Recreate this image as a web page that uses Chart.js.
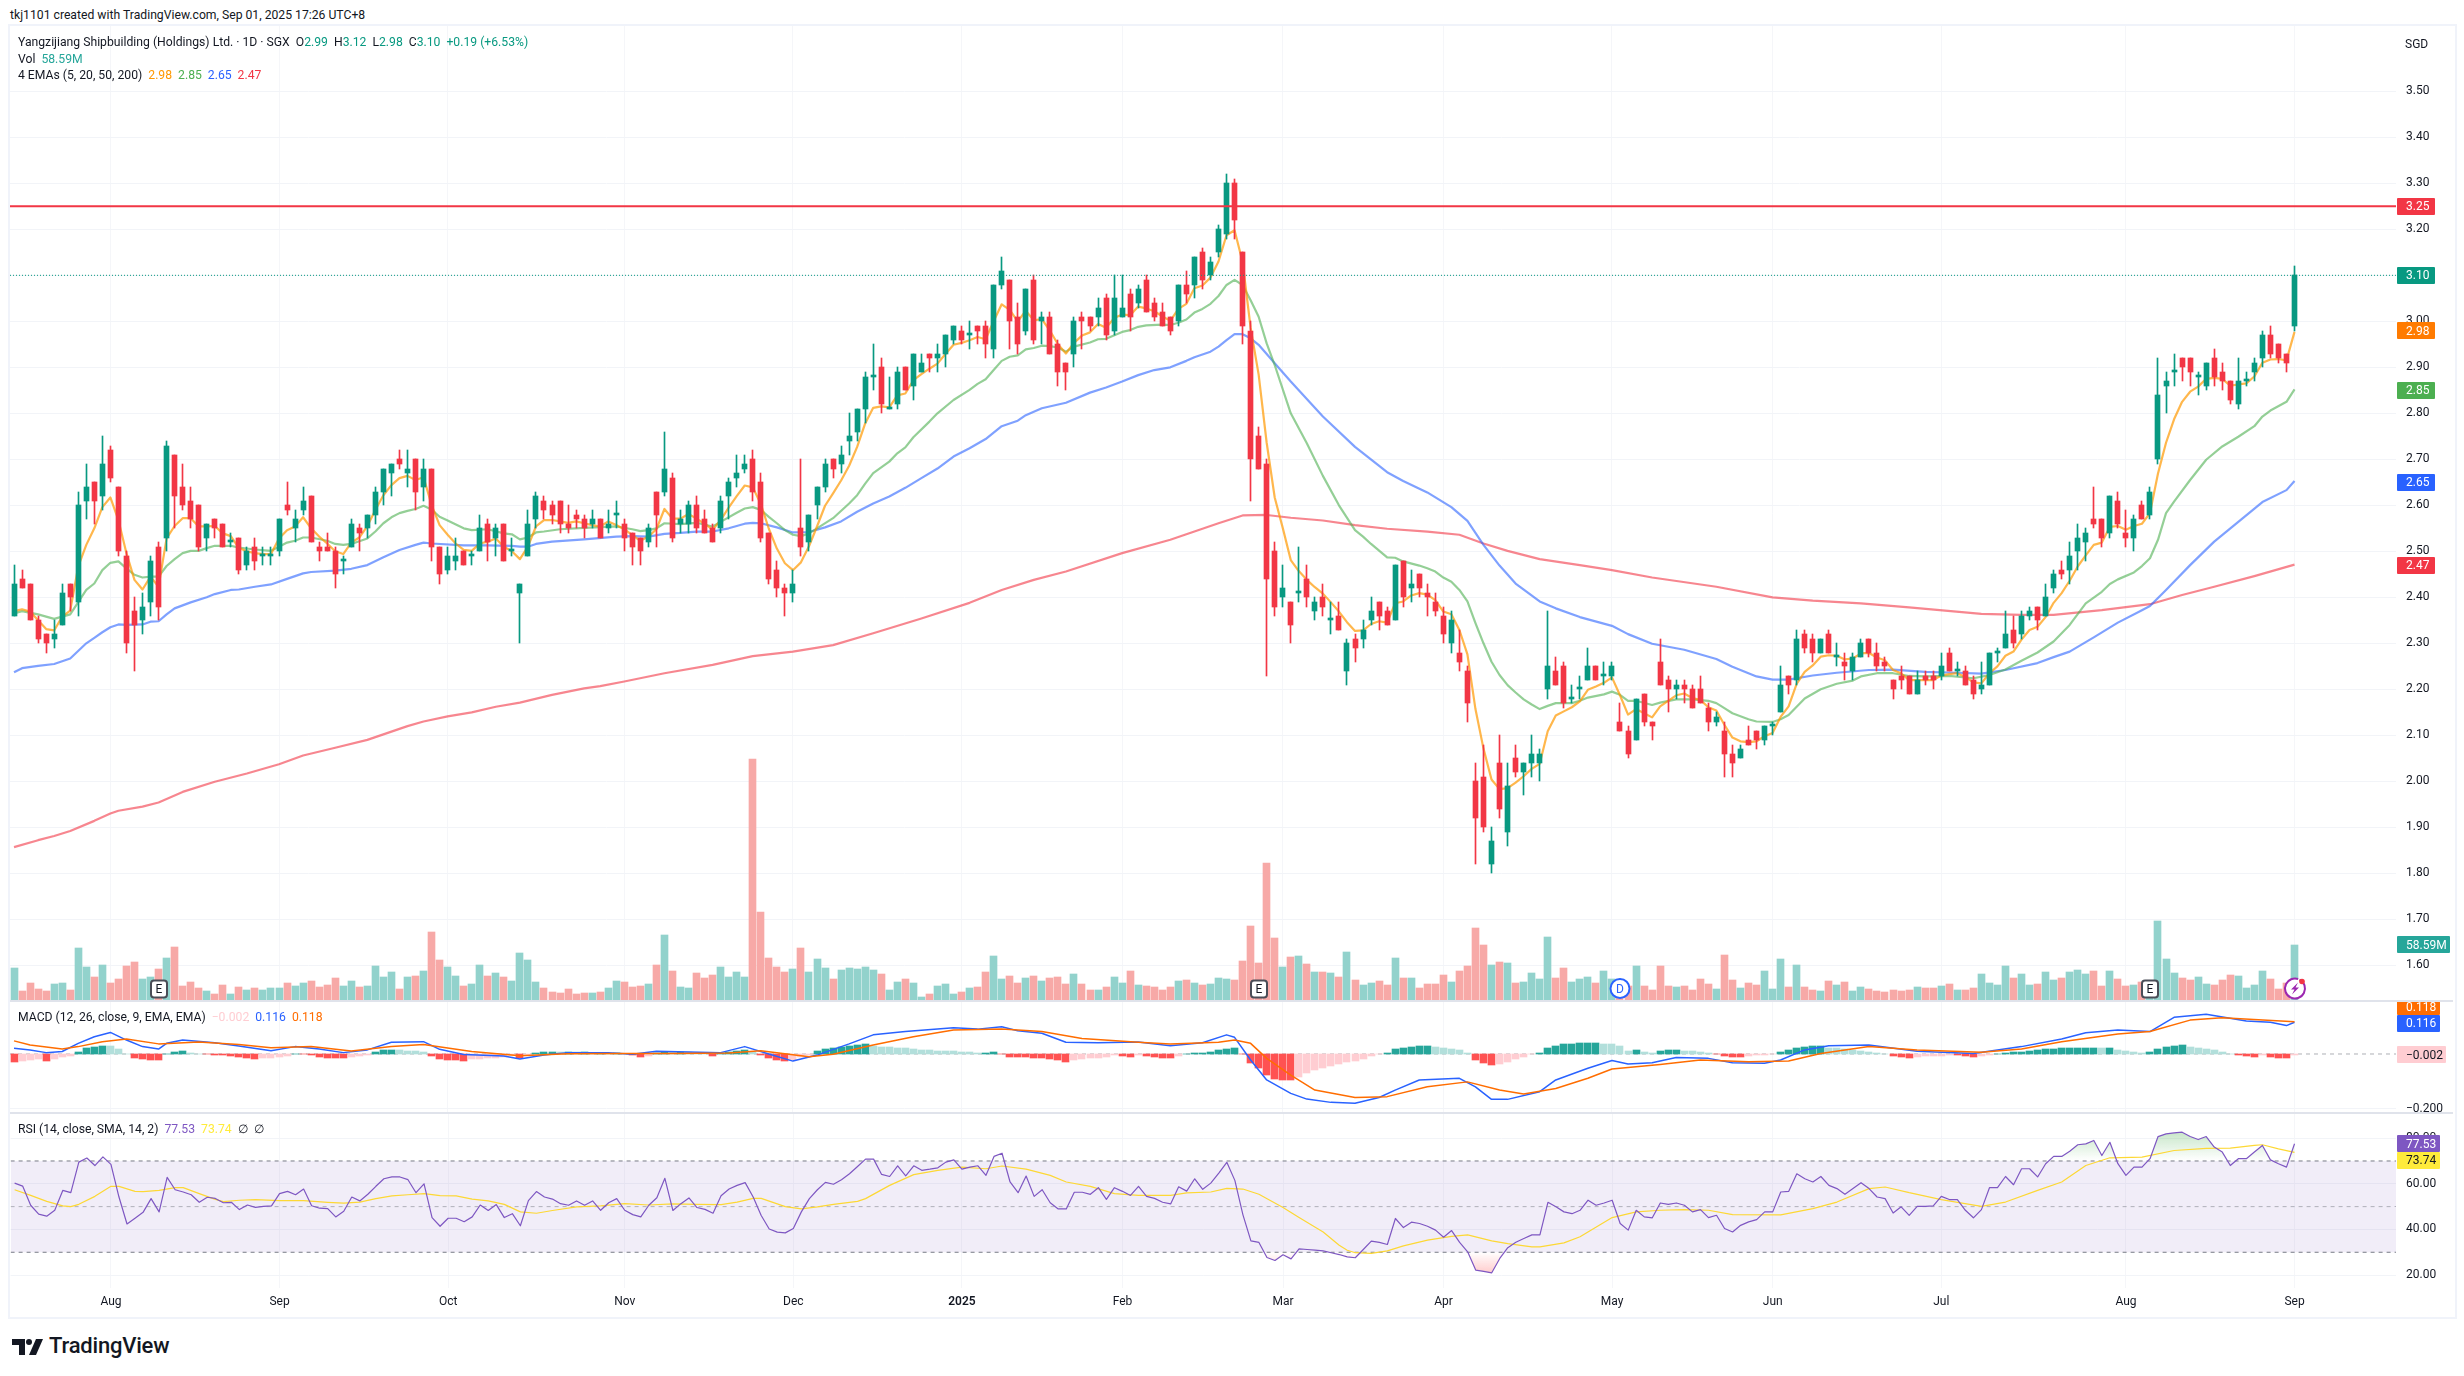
<!DOCTYPE html>
<html>
<head>
<meta charset="utf-8">
<title>Yangzijiang Shipbuilding 1D</title>
<script src="https://cdn.jsdelivr.net/npm/chart.js@4"></script>
<style>
  html, body { margin: 0; padding: 0; background: #fff; }
  body { width: 2464px; height: 1376px; position: relative; overflow: hidden; font-family: Roboto, sans-serif; color: #131722; }
  canvas { position: absolute; left: 10px; }
  #frame { position: absolute; left: 8px; top: 24px; width: 2445px; height: 1291px; border: 2px solid #f0f3fa; }
  .sep { position: absolute; left: 10px; width: 2443px; height: 2px; background: #e0e3eb; }
  .txt { position: absolute; white-space: pre; font-size: 12.2px; line-height: 16px; }
  .txt span { margin-left: 6px; }
  #logo { position: absolute; left: 12px; top: 1338px; }
  #logoText { position: absolute; left: 49px; top: 1333px; font-size: 22px; line-height: 26px; font-weight: 500; color: #131722; letter-spacing: -0.2px; }
  #sgd { position: absolute; left: 2405px; top: 37px; font-size: 12px; line-height: 15px; }
</style>
</head>
<body>
<div id="frame"></div>
<canvas id="mainCanvas" width="2443" height="975" style="top:26px"></canvas>
<canvas id="macdCanvas" width="2443" height="112" style="top:1001px"></canvas>
<canvas id="rsiCanvas" width="2443" height="202" style="top:1113px"></canvas>
<div class="sep" style="top:1000px"></div>
<div class="sep" style="top:1112px"></div>

<div class="txt" style="left:10px;top:7px">tkj1101 created with TradingView.com, Sep 01, 2025 17:26 UTC+8</div>
<div class="txt" style="left:18px;top:34px">Yangzijiang Shipbuilding (Holdings) Ltd. · 1D · SGX<span>O</span><span style="margin:0;color:#089981">2.99</span><span>H</span><span style="margin:0;color:#089981">3.12</span><span>L</span><span style="margin:0;color:#089981">2.98</span><span>C</span><span style="margin:0;color:#089981">3.10</span><span style="color:#089981">+0.19 (+6.53%)</span></div>
<div class="txt" style="left:18px;top:51px">Vol<span style="color:#26a69a">58.59M</span></div>
<div class="txt" style="left:18px;top:67px">4 EMAs (5, 20, 50, 200)<span style="color:#ff9800">2.98</span><span style="color:#4caf50">2.85</span><span style="color:#2962ff">2.65</span><span style="color:#f23645">2.47</span></div>
<div class="txt" style="left:18px;top:1009px">MACD (12, 26, close, 9, EMA, EMA)<span style="color:#ffcdd2">−0.002</span><span style="color:#2962ff">0.116</span><span style="color:#ff6d00">0.118</span></div>
<div class="txt" style="left:18px;top:1121px">RSI (14, close, SMA, 14, 2)<span style="color:#7e57c2">77.53</span><span style="color:#ffeb3b">73.74</span><span>∅</span><span>∅</span></div>
<div id="sgd">SGD</div>

<svg id="logo" width="32" height="18" viewBox="0 0 32 18">
  <path d="M0 1h13v16H7V7H0z" fill="#131722"/>
  <circle cx="17" cy="4" r="3" fill="#131722"/>
  <path d="M24 1h7l-7 16h-7z" fill="#131722"/>
</svg>
<div id="logoText">TradingView</div>

<script>
// daily candles, one entry per session
const opens = [
  2.36,2.44,2.43,2.35,2.32,2.31,2.34,2.43,2.39,2.61,
  2.65,2.62,2.72,2.64,2.49,2.37,2.35,2.39,2.51,2.53,
  2.71,2.64,2.61,2.60,2.53,2.57,2.56,2.52,2.53,2.47,
  2.51,2.49,2.49,2.50,2.60,2.55,2.59,2.62,2.51,2.51,
  2.50,2.48,2.51,2.55,2.55,2.58,2.63,2.67,2.70,2.67,
  2.70,2.64,2.68,2.51,2.46,2.48,2.50,2.49,2.50,2.56,
  2.53,2.56,2.50,2.41,2.49,2.57,2.61,2.60,2.61,2.56,
  2.58,2.57,2.56,2.57,2.55,2.58,2.56,2.54,2.53,2.52,
  2.63,2.63,2.66,2.56,2.56,2.60,2.57,2.55,2.55,2.62,
  2.66,2.68,2.70,2.65,2.54,2.46,2.42,2.41,2.55,2.52,
  2.60,2.64,2.70,2.69,2.74,2.76,2.81,2.88,2.90,2.81,
  2.82,2.90,2.86,2.89,2.93,2.92,2.93,2.96,2.98,2.97,
  2.99,2.99,2.94,3.08,3.09,3.01,2.98,3.09,3.00,3.01,
  2.95,2.91,2.93,3.01,3.01,3.01,3.05,2.98,3.01,3.06,
  3.04,3.09,3.04,3.02,3.01,3.00,3.08,3.08,3.15,3.10,
  3.15,3.19,3.30,3.15,2.98,2.75,2.69,2.50,2.40,2.39,
  2.41,2.44,2.37,2.40,2.35,2.36,2.24,2.31,2.31,2.35,
  2.39,2.37,2.35,2.48,2.42,2.45,2.41,2.39,2.36,2.30,
  2.28,2.24,2.00,2.01,1.82,2.04,1.89,2.05,2.02,2.04,
  2.04,2.20,2.24,2.25,2.18,2.20,2.22,2.25,2.23,2.23,
  2.13,2.11,2.09,2.19,2.13,2.26,2.22,2.20,2.21,2.20,
  2.20,2.16,2.13,2.11,2.06,2.05,2.09,2.11,2.09,2.12,
  2.15,2.23,2.22,2.32,2.31,2.28,2.32,2.27,2.26,2.24,
  2.27,2.31,2.28,2.26,2.22,2.23,2.23,2.19,2.23,2.23,
  2.23,2.28,2.24,2.24,2.22,2.20,2.21,2.28,2.29,2.33,
  2.32,2.36,2.38,2.36,2.42,2.46,2.46,2.50,2.52,2.57,
  2.57,2.54,2.61,2.54,2.53,2.60,2.58,2.70,2.86,2.89,
  2.92,2.92,2.88,2.86,2.92,2.89,2.87,2.82,2.87,2.89,
  2.92,2.97,2.95,2.93,2.99
];
const highs = [
  2.47,2.46,2.43,2.36,2.32,2.35,2.43,2.43,2.63,2.69,
  2.65,2.75,2.73,2.64,2.50,2.40,2.41,2.49,2.52,2.74,
  2.71,2.69,2.64,2.60,2.56,2.57,2.56,2.54,2.53,2.51,
  2.53,2.51,2.51,2.57,2.65,2.59,2.64,2.62,2.52,2.54,
  2.51,2.49,2.57,2.56,2.58,2.64,2.68,2.69,2.72,2.72,
  2.70,2.70,2.68,2.51,2.51,2.53,2.50,2.50,2.58,2.57,
  2.56,2.56,2.53,2.43,2.59,2.63,2.62,2.61,2.61,2.60,
  2.59,2.58,2.59,2.57,2.59,2.61,2.57,2.54,2.53,2.56,
  2.63,2.76,2.67,2.59,2.61,2.62,2.59,2.56,2.62,2.66,
  2.71,2.71,2.72,2.67,2.54,2.48,2.43,2.46,2.70,2.58,
  2.64,2.70,2.70,2.73,2.80,2.81,2.89,2.95,2.92,2.88,
  2.90,2.90,2.93,2.93,2.93,2.95,2.97,2.99,2.99,3.00,
  2.99,3.00,3.08,3.14,3.09,3.04,3.07,3.10,3.02,3.02,
  2.96,2.91,3.01,3.02,3.01,3.05,3.06,3.10,3.10,3.07,
  3.08,3.10,3.05,3.04,3.01,3.08,3.11,3.14,3.16,3.14,
  3.21,3.32,3.31,3.15,3.00,2.77,2.70,2.52,2.47,2.39,
  2.51,2.47,2.40,2.43,2.39,2.39,2.31,2.32,2.35,2.40,
  2.39,2.38,2.47,2.48,2.46,2.45,2.43,2.41,2.38,2.37,
  2.33,2.25,2.04,2.08,1.90,2.10,2.04,2.08,2.04,2.10,
  2.07,2.37,2.27,2.26,2.21,2.23,2.29,2.25,2.26,2.26,
  2.17,2.12,2.18,2.19,2.13,2.31,2.23,2.22,2.22,2.21,
  2.23,2.17,2.15,2.13,2.08,2.08,2.12,2.11,2.12,2.13,
  2.25,2.23,2.33,2.33,2.32,2.31,2.33,2.30,2.28,2.28,
  2.31,2.31,2.30,2.27,2.22,2.25,2.23,2.24,2.24,2.24,
  2.28,2.29,2.26,2.25,2.23,2.26,2.28,2.29,2.37,2.36,
  2.37,2.38,2.38,2.43,2.46,2.48,2.52,2.56,2.55,2.64,
  2.57,2.62,2.63,2.59,2.58,2.61,2.64,2.92,2.89,2.93,
  2.92,2.92,2.89,2.91,2.94,2.91,2.87,2.92,2.89,2.92,
  2.98,2.99,2.95,2.93,3.12
];
const lows = [
  2.36,2.42,2.35,2.30,2.28,2.29,2.34,2.37,2.36,2.57,
  2.56,2.59,2.65,2.49,2.28,2.24,2.32,2.36,2.35,2.50,
  2.55,2.59,2.55,2.50,2.50,2.53,2.51,2.51,2.45,2.46,
  2.46,2.47,2.47,2.49,2.58,2.52,2.58,2.52,2.48,2.50,
  2.42,2.45,2.51,2.50,2.53,2.56,2.60,2.62,2.68,2.64,
  2.59,2.61,2.48,2.43,2.45,2.46,2.47,2.47,2.50,2.48,
  2.49,2.48,2.49,2.30,2.49,2.55,2.57,2.56,2.54,2.54,
  2.55,2.53,2.55,2.53,2.54,2.55,2.50,2.47,2.47,2.51,
  2.51,2.62,2.52,2.54,2.54,2.54,2.54,2.52,2.54,2.57,
  2.64,2.67,2.61,2.52,2.43,2.40,2.36,2.39,2.49,2.50,
  2.57,2.63,2.66,2.67,2.71,2.74,2.78,2.85,2.80,2.81,
  2.81,2.85,2.83,2.89,2.89,2.89,2.90,2.95,2.95,2.94,
  2.95,2.92,2.92,3.07,2.94,2.93,2.97,2.95,2.95,2.93,
  2.86,2.85,2.90,2.94,2.98,2.99,2.96,2.97,3.01,2.98,
  3.03,3.02,3.00,2.99,2.97,2.99,3.04,3.05,3.07,3.09,
  3.14,3.18,3.18,2.95,2.61,2.68,2.23,2.36,2.38,2.30,
  2.39,2.38,2.35,2.36,2.32,2.33,2.21,2.26,2.29,2.34,
  2.33,2.34,2.35,2.38,2.39,2.40,2.36,2.36,2.30,2.28,
  2.24,2.13,1.82,1.89,1.80,1.92,1.86,2.01,1.97,2.01,
  2.00,2.18,2.21,2.16,2.17,2.18,2.22,2.22,2.21,2.22,
  2.11,2.05,2.09,2.12,2.09,2.21,2.15,2.18,2.17,2.16,
  2.17,2.11,2.12,2.01,2.01,2.05,2.08,2.07,2.08,2.10,
  2.15,2.19,2.21,2.28,2.26,2.28,2.28,2.25,2.22,2.22,
  2.27,2.27,2.24,2.24,2.18,2.20,2.19,2.19,2.21,2.20,
  2.22,2.24,2.23,2.21,2.18,2.19,2.21,2.26,2.29,2.29,
  2.31,2.35,2.33,2.36,2.41,2.44,2.43,2.46,2.48,2.55,
  2.51,2.53,2.55,2.51,2.50,2.57,2.57,2.69,2.80,2.86,
  2.87,2.86,2.84,2.85,2.86,2.85,2.82,2.81,2.86,2.87,
  2.90,2.92,2.91,2.89,2.98
];
const closes = [
  2.43,2.42,2.35,2.31,2.30,2.32,2.41,2.40,2.60,2.64,
  2.61,2.69,2.66,2.50,2.30,2.34,2.38,2.48,2.38,2.73,
  2.62,2.60,2.57,2.51,2.56,2.55,2.51,2.52,2.46,2.50,
  2.48,2.49,2.49,2.57,2.59,2.57,2.61,2.52,2.50,2.50,
  2.45,2.48,2.56,2.54,2.58,2.63,2.68,2.69,2.69,2.68,
  2.63,2.68,2.51,2.45,2.49,2.49,2.47,2.49,2.55,2.52,
  2.55,2.48,2.50,2.43,2.56,2.62,2.59,2.58,2.56,2.55,
  2.57,2.55,2.57,2.53,2.56,2.58,2.53,2.51,2.50,2.55,
  2.58,2.68,2.53,2.57,2.60,2.55,2.54,2.52,2.61,2.65,
  2.67,2.69,2.63,2.53,2.44,2.42,2.41,2.43,2.51,2.58,
  2.64,2.69,2.68,2.71,2.75,2.81,2.88,2.88,2.82,2.81,
  2.89,2.85,2.93,2.91,2.92,2.93,2.97,2.99,2.96,2.97,
  2.98,2.95,3.08,3.11,3.00,2.95,3.07,2.96,3.01,2.93,
  2.89,2.89,3.00,3.00,2.99,3.03,2.97,3.05,3.03,3.01,
  3.07,3.02,3.01,2.99,2.98,3.08,3.06,3.14,3.09,3.13,
  3.20,3.30,3.22,2.99,2.70,2.68,2.44,2.38,2.42,2.34,
  2.41,2.40,2.39,2.38,2.35,2.33,2.30,2.29,2.33,2.37,
  2.36,2.34,2.47,2.40,2.43,2.42,2.40,2.37,2.32,2.35,
  2.26,2.17,1.92,1.90,1.87,1.94,1.99,2.02,2.04,2.06,
  2.06,2.25,2.21,2.17,2.18,2.20,2.25,2.22,2.23,2.25,
  2.11,2.06,2.18,2.13,2.12,2.21,2.20,2.21,2.20,2.16,
  2.17,2.13,2.14,2.06,2.04,2.07,2.08,2.09,2.12,2.12,
  2.21,2.21,2.31,2.29,2.28,2.31,2.28,2.27,2.25,2.27,
  2.30,2.28,2.25,2.25,2.20,2.22,2.19,2.22,2.22,2.22,
  2.25,2.24,2.24,2.21,2.19,2.21,2.28,2.28,2.32,2.30,
  2.36,2.37,2.35,2.40,2.45,2.45,2.49,2.53,2.54,2.56,
  2.53,2.62,2.56,2.53,2.57,2.57,2.63,2.84,2.87,2.89,
  2.90,2.89,2.88,2.91,2.88,2.87,2.83,2.87,2.87,2.91,
  2.97,2.93,2.92,2.91,3.10
];
// traded volume in millions of shares
const volumes = [
  35.0,10.7,19.1,12.8,10.7,18.0,19.1,11.8,55.5,35.7,
  24.6,37.8,19.1,23.2,36.8,40.9,23.2,25.3,33.6,45.1,
  56.5,15.9,20.1,13.9,10.7,7.6,17.0,7.6,14.9,11.8,
  13.9,11.8,13.9,13.9,19.1,15.9,19.1,21.1,14.9,17.0,
  24.3,15.9,21.1,14.9,15.9,36.8,25.3,30.5,12.8,25.3,
  26.3,31.5,72.1,43.0,35.7,26.3,15.9,18.0,37.8,26.3,
  29.5,25.3,21.1,50.3,43.0,20.1,13.9,9.7,8.7,12.8,
  7.6,8.7,8.7,9.7,13.9,21.1,20.1,14.9,15.9,18.0,
  37.8,69.0,31.5,14.9,13.9,29.5,24.3,27.4,35.7,25.3,
  30.5,25.3,253.0,92.9,45.1,35.7,30.5,33.6,55.5,30.5,
  44.0,34.7,23.2,32.6,34.7,33.3,35.7,32.6,28.4,11.8,
  20.1,23.2,19.1,4.5,7.6,15.9,18.0,7.6,9.7,13.9,
  14.9,30.5,47.1,23.2,26.3,19.1,24.3,26.3,21.1,24.3,
  25.3,18.0,28.4,18.0,11.8,11.8,14.9,25.3,19.1,31.5,
  17.0,15.9,14.9,11.8,14.9,21.1,22.2,19.1,17.0,18.0,
  24.3,23.2,22.2,42.0,78.4,39.9,144.2,65.9,35.7,46.1,
  47.2,38.8,30.5,30.5,29.5,25.3,51.3,22.2,17.0,19.1,
  21.1,17.0,45.1,24.3,24.3,13.9,18.0,18.0,27.4,20.1,
  31.5,36.8,76.3,58.6,37.8,40.9,39.9,19.1,20.1,29.5,
  23.2,66.9,24.3,34.7,20.1,23.2,25.3,19.1,31.5,23.2,
  18.7,15.9,36.8,15.9,11.8,36.8,15.9,14.9,15.9,11.8,
  23.2,18.0,12.8,48.2,22.2,13.9,19.1,17.0,31.5,12.8,
  44.0,14.9,37.8,14.9,11.8,10.7,21.1,17.0,20.1,10.7,
  14.9,12.8,10.7,9.7,11.8,10.7,11.8,14.9,13.9,13.9,
  15.9,18.0,11.8,11.8,13.9,28.4,19.1,17.0,36.8,24.3,
  28.4,17.0,18.0,30.5,22.2,24.3,30.5,32.6,28.4,31.5,
  15.9,31.5,23.2,15.9,17.0,20.1,18.7,83.6,44.0,29.5,
  24.3,22.2,25.3,18.0,17.0,22.2,27.4,26.3,13.9,17.0,
  31.5,23.2,12.8,18.7,58.59
];
const ema5 = [
  2.37,2.374,2.369,2.35,2.331,2.328,2.358,2.371,2.467,2.514,
  2.55,2.596,2.617,2.568,2.496,2.438,2.417,2.445,2.423,2.528,
  2.555,2.572,2.572,2.554,2.554,2.555,2.539,2.533,2.507,2.50,
  2.496,2.494,2.494,2.528,2.546,2.554,2.574,2.55,2.532,2.517,
  2.50,2.494,2.519,2.53,2.555,2.59,2.622,2.644,2.659,2.664,
  2.655,2.661,2.601,2.557,2.536,2.517,2.503,2.501,2.517,2.521,
  2.528,2.51,2.50,2.483,2.51,2.554,2.568,2.568,2.565,2.562,
  2.565,2.561,2.557,2.554,2.565,2.557,2.548,2.535,2.523,2.532,
  2.548,2.592,2.571,2.571,2.581,2.571,2.56,2.547,2.568,2.595,
  2.62,2.643,2.639,2.603,2.549,2.506,2.474,2.459,2.476,2.511,
  2.554,2.599,2.626,2.654,2.686,2.727,2.778,2.812,2.815,2.813,
  2.839,2.843,2.872,2.885,2.897,2.908,2.929,2.949,2.953,2.959,
  2.966,2.961,3.00,3.037,3.025,3.00,3.023,3.002,3.005,2.98,
  2.95,2.93,2.953,2.969,2.976,2.994,2.986,3.007,3.015,3.013,
  3.032,3.028,3.022,3.011,3.001,3.027,3.038,3.072,3.078,3.095,
  3.13,3.187,3.198,3.129,2.986,2.884,2.736,2.617,2.551,2.481,
  2.457,2.438,2.422,2.408,2.389,2.369,2.346,2.327,2.328,2.342,
  2.348,2.345,2.387,2.391,2.404,2.409,2.406,2.394,2.369,2.363,
  2.329,2.276,2.157,2.071,2.004,1.983,1.985,1.997,2.011,2.027,
  2.038,2.109,2.143,2.152,2.161,2.174,2.199,2.206,2.214,2.226,
  2.187,2.145,2.157,2.148,2.139,2.163,2.175,2.187,2.191,2.181,
  2.177,2.161,2.154,2.123,2.095,2.087,2.085,2.087,2.098,2.105,
  2.14,2.163,2.212,2.238,2.252,2.271,2.274,2.273,2.265,2.267,
  2.278,2.279,2.269,2.263,2.242,2.235,2.22,2.22,2.22,2.22,
  2.23,2.233,2.235,2.227,2.215,2.213,2.235,2.25,2.273,2.282,
  2.308,2.329,2.336,2.357,2.388,2.409,2.436,2.467,2.491,2.514,
  2.519,2.553,2.555,2.547,2.555,2.56,2.583,2.669,2.736,2.787,
  2.825,2.847,2.858,2.875,2.877,2.875,2.86,2.863,2.865,2.88,
  2.91,2.917,2.918,2.915,2.977
];
// slower averages, vertices
const ema20Bars = [0,1,3,5,7,9,10,11,12,13,14,15,16,17,18,19,20,21,22,23,24,25,27,28,30,32,33,34,35,36,37,39,40,41,42,43,44,45,46,47,48,49,50,51,52,53,54,56,57,59,61,62,63,64,65,66,68,71,75,77,78,79,80,81,83,85,87,88,90,91,92,93,94,95,96,97,98,99,100,102,104,105,106,107,109,110,111,112,114,115,117,119,120,121,122,123,124,125,126,127,128,129,130,131,132,134,135,136,138,139,140,141,143,144,145,146,147,148,149,150,151,152,153,154,155,156,157,159,161,163,165,167,168,169,171,172,173,175,176,177,178,179,180,181,182,183,184,185,186,187,188,189,190,191,192,194,195,196,198,199,200,201,202,204,205,207,209,211,212,213,214,216,217,219,220,221,223,225,227,229,230,232,234,236,238,241,244,246,248,250,252,254,256,258,260,261,262,264,265,266,267,268,269,271,273,275,277,279,280,281,283,284];
const ema20Vals = [2.365,2.37,2.363,2.353,2.363,2.416,2.43,2.459,2.475,2.478,2.463,2.449,2.443,2.445,2.445,2.468,2.483,2.496,2.501,2.501,2.507,2.512,2.512,2.508,2.504,2.501,2.51,2.519,2.523,2.53,2.53,2.523,2.516,2.514,2.516,2.522,2.528,2.543,2.561,2.574,2.583,2.588,2.592,2.599,2.591,2.575,2.567,2.55,2.546,2.548,2.539,2.537,2.526,2.53,2.541,2.543,2.548,2.551,2.554,2.548,2.544,2.546,2.55,2.561,2.559,2.562,2.554,2.564,2.584,2.593,2.596,2.59,2.575,2.561,2.546,2.536,2.533,2.539,2.55,2.572,2.604,2.622,2.647,2.67,2.695,2.713,2.726,2.748,2.782,2.80,2.829,2.851,2.864,2.874,2.894,2.914,2.923,2.926,2.939,2.942,2.947,2.946,2.943,2.934,2.945,2.954,2.961,2.962,2.977,2.981,2.988,2.991,2.993,2.992,2.997,3.004,3.019,3.027,3.038,3.055,3.079,3.09,3.079,3.046,3.01,2.952,2.905,2.80,2.735,2.664,2.60,2.546,2.532,2.516,2.487,2.486,2.478,2.469,2.463,2.456,2.443,2.434,2.416,2.391,2.344,2.30,2.26,2.231,2.209,2.193,2.178,2.167,2.157,2.164,2.17,2.17,2.175,2.182,2.189,2.195,2.188,2.175,2.175,2.166,2.171,2.178,2.178,2.175,2.17,2.159,2.148,2.135,2.13,2.129,2.135,2.144,2.18,2.20,2.212,2.219,2.228,2.235,2.235,2.229,2.228,2.229,2.224,2.231,2.243,2.262,2.28,2.304,2.34,2.387,2.412,2.429,2.439,2.454,2.468,2.485,2.525,2.583,2.608,2.655,2.699,2.728,2.749,2.772,2.793,2.806,2.825,2.852];
const ema50Bars = [0,1,3,5,7,9,10,11,12,13,14,16,17,18,19,20,22,24,25,27,28,30,32,34,36,37,40,42,44,46,48,50,51,52,56,59,62,63,64,65,67,71,75,77,79,81,83,85,87,89,91,92,93,95,97,99,101,103,105,107,109,111,113,115,117,119,121,123,125,126,128,131,134,136,138,140,142,144,146,147,149,150,151,152,153,154,155,157,159,163,167,171,173,176,179,181,183,185,187,190,192,195,199,201,204,208,212,214,217,219,221,224,227,231,234,238,242,245,248,252,254,256,259,262,265,266,268,271,274,277,280,283,284];
const ema50Vals = [2.237,2.246,2.251,2.255,2.267,2.30,2.312,2.324,2.335,2.341,2.34,2.341,2.347,2.348,2.363,2.376,2.389,2.40,2.407,2.416,2.417,2.423,2.428,2.44,2.452,2.455,2.458,2.462,2.47,2.487,2.503,2.514,2.519,2.517,2.513,2.513,2.512,2.51,2.51,2.516,2.521,2.526,2.532,2.533,2.532,2.538,2.54,2.543,2.543,2.55,2.56,2.562,2.561,2.552,2.541,2.542,2.552,2.565,2.586,2.604,2.619,2.638,2.659,2.68,2.706,2.724,2.744,2.772,2.784,2.796,2.811,2.823,2.845,2.856,2.869,2.883,2.894,2.90,2.914,2.922,2.934,2.945,2.959,2.972,2.972,2.963,2.949,2.909,2.869,2.793,2.727,2.672,2.653,2.628,2.596,2.566,2.514,2.469,2.43,2.391,2.376,2.357,2.338,2.32,2.299,2.286,2.266,2.249,2.228,2.221,2.221,2.23,2.236,2.242,2.243,2.238,2.236,2.234,2.242,2.257,2.27,2.282,2.313,2.345,2.372,2.381,2.416,2.47,2.521,2.564,2.607,2.633,2.653];
const ema200Bars = [0,3,5,7,10,12,13,16,18,21,25,29,33,36,40,44,46,49,51,54,57,60,63,67,71,73,76,81,87,92,97,102,107,113,119,123,127,131,138,144,150,153,156,159,163,167,171,176,180,183,186,190,195,199,204,212,219,224,230,236,245,250,254,260,266,270,274,279,284];
const ema200Vals = [1.857,1.872,1.881,1.892,1.914,1.93,1.936,1.945,1.954,1.977,1.999,2.017,2.037,2.056,2.073,2.09,2.102,2.12,2.13,2.141,2.15,2.162,2.171,2.188,2.202,2.207,2.217,2.235,2.253,2.272,2.282,2.296,2.322,2.354,2.388,2.416,2.438,2.456,2.496,2.525,2.561,2.578,2.579,2.573,2.567,2.557,2.549,2.543,2.536,2.517,2.501,2.483,2.47,2.459,2.443,2.423,2.40,2.393,2.387,2.378,2.364,2.362,2.362,2.372,2.385,2.405,2.423,2.446,2.471];

// MACD pane
const macdBars = [0,2,4,6,8,10,12,14,16,18,19,21,25,28,32,35,38,41,44,47,51,53,56,61,63,66,69,74,77,80,84,88,91,94,97,100,104,107,111,117,120,123,125,128,131,135,140,144,148,151,152,154,156,159,161,164,167,170,172,175,180,182,184,186,190,192,196,199,201,204,207,211,214,218,220,223,226,231,237,244,250,255,258,262,266,269,273,278,281,283,284];
const macdVals = [0.021,0.015,0.005,0.009,0.039,0.063,0.079,0.051,0.027,0.018,0.039,0.051,0.041,0.029,0.012,0.027,0.018,0.005,0.015,0.043,0.045,0.017,-0.002,-0.007,-0.018,-0.004,0.005,0.005,-0.001,0.01,0.007,0.005,0.027,0,-0.026,-0.004,0.037,0.07,0.082,0.096,0.091,0.1,0.085,0.076,0.043,0.041,0.044,0.03,0.041,0.07,0.061,-0.022,-0.095,-0.144,-0.165,-0.177,-0.18,-0.159,-0.132,-0.095,-0.089,-0.12,-0.166,-0.166,-0.138,-0.095,-0.052,-0.024,-0.037,-0.032,-0.013,-0.016,-0.032,-0.034,-0.022,0.015,0.03,0.033,0.01,0.002,0.027,0.055,0.078,0.088,0.082,0.134,0.145,0.121,0.116,0.104,0.116];
const signalBars = [0,2,6,8,11,14,18,23,28,32,37,42,47,51,57,63,69,76,82,89,93,99,102,107,112,117,123,128,133,140,144,150,152,154,156,159,162,167,171,176,181,185,188,192,196,199,205,210,216,221,225,231,237,245,250,255,262,266,271,275,284];
const signalVals = [0.048,0.033,0.018,0.027,0.045,0.055,0.037,0.044,0.035,0.023,0.027,0.011,0.027,0.035,0.009,-0.006,0.001,0.002,0.002,0.004,0.012,-0.01,-0.001,0.033,0.063,0.088,0.091,0.082,0.057,0.043,0.037,0.043,0.051,0.039,-0.016,-0.077,-0.132,-0.159,-0.156,-0.12,-0.102,-0.132,-0.146,-0.126,-0.089,-0.055,-0.038,-0.022,-0.028,-0.026,0.002,0.027,0.015,0.006,0.018,0.045,0.073,0.082,0.124,0.133,0.118];
const histVals = [
  -0.028,-0.026,-0.022,-0.02,-0.026,-0.02,-0.012,-0.006,0.009,0.023,
  0.027,0.03,0.029,0.017,0.001,-0.016,-0.02,-0.021,-0.022,0.001,
  0.006,0.01,0.002,0.001,-0.001,-0.002,-0.005,-0.007,-0.012,-0.015,
  -0.018,-0.016,-0.013,-0.01,-0.006,0.001,-0.001,-0.005,-0.01,-0.013,
  -0.014,-0.015,-0.01,-0.006,-0.004,0.007,0.013,0.015,0.013,0.012,
  0.011,0.007,-0.006,-0.017,-0.021,-0.023,-0.024,-0.018,-0.017,-0.015,
  -0.014,-0.01,-0.005,-0.015,-0.002,0.004,0.006,0.009,0.007,0.007,
  0.006,0.006,0.005,0.005,0.004,0.004,0.001,-0.004,-0.01,-0.006,
  0.002,0.008,0.006,0.007,0.006,0.004,0.001,-0.006,0.002,0.007,
  0.011,0.015,0.009,-0.004,-0.016,-0.022,-0.026,-0.023,-0.01,-0.005,
  0.011,0.017,0.022,0.027,0.03,0.034,0.035,0.029,0.027,0.024,
  0.023,0.022,0.017,0.015,0.013,0.012,0.011,0.01,0.009,0.007,
  0.004,0.005,0.007,-0.001,-0.01,-0.011,-0.012,-0.013,-0.016,-0.02,
  -0.023,-0.029,-0.022,-0.018,-0.016,-0.013,-0.01,-0.005,-0.006,-0.01,
  -0.005,-0.007,-0.011,-0.013,-0.014,-0.006,0,0.004,0.005,0.009,
  0.015,0.017,0.021,-0.001,-0.034,-0.052,-0.077,-0.093,-0.094,-0.095,
  -0.083,-0.068,-0.059,-0.05,-0.044,-0.037,-0.029,-0.026,-0.02,-0.006,
  -0.001,0.005,0.017,0.022,0.027,0.029,0.03,0.027,0.023,0.02,
  0.016,0.002,-0.022,-0.033,-0.04,-0.038,-0.028,-0.02,-0.01,-0.001,
  0.005,0.023,0.03,0.037,0.038,0.039,0.04,0.041,0.038,0.037,
  0.029,0.012,0.015,0.009,0.005,0.012,0.014,0.015,0.012,0.011,
  0.007,0.002,-0.001,-0.007,-0.01,-0.011,-0.006,-0.005,-0.004,-0.001,
  0.009,0.015,0.021,0.027,0.028,0.029,0.023,0.021,0.018,0.013,
  0.01,0.006,0.004,0.001,-0.006,-0.01,-0.013,-0.01,-0.009,-0.008,
  -0.006,-0.004,-0.005,-0.007,-0.01,-0.009,-0.004,0,0.002,0.007,
  0.009,0.012,0.013,0.017,0.018,0.021,0.021,0.022,0.022,0.023,
  0.021,0.023,0.015,0.011,0.007,0.005,0.009,0.017,0.027,0.03,
  0.033,0.027,0.023,0.02,0.015,0.007,0.001,-0.004,-0.006,-0.01,
  -0.005,-0.01,-0.013,-0.014,-0.002
];

// RSI pane
const rsiVals = [
  60.3,59.0,50.6,46.7,45.8,48.4,57.1,56.1,69.5,71.3,
  68.0,71.8,68.5,54.2,42.4,44.9,47.5,53.5,47.7,62.8,
  57.4,56.4,55.2,51.9,54.1,53.6,51.7,51.9,48.7,50.7,
  49.7,50.1,50.3,55.7,56.7,55.2,57.7,50.4,49.3,49.1,
  45.5,48.0,54.2,52.5,55.4,58.9,62.2,63.0,63.0,61.8,
  56.1,60.0,45.2,41.4,44.9,44.9,43.4,45.5,50.7,48.3,
  50.9,45.2,46.9,41.6,52.6,56.6,54.2,53.3,51.3,50.6,
  52.5,50.6,52.5,48.4,51.7,53.5,48.4,46.5,45.5,50.6,
  53.9,62.4,48.3,51.3,53.8,49.6,48.8,47.1,54.8,57.7,
  59.3,60.5,54.2,46.1,40.2,38.8,38.5,40.4,47.7,53.5,
  57.4,60.6,59.8,61.8,64.4,67.6,70.8,70.8,64.1,63.2,
  67.9,63.5,67.9,65.9,66.4,67.0,69.5,70.5,66.4,67.3,
  67.9,63.7,72.0,73.4,60.8,56.1,63.4,54.5,57.4,51.7,
  49.0,49.0,56.3,56.3,55.4,58.3,53.2,58.3,56.7,54.9,
  58.9,54.5,53.6,51.9,51.2,58.7,56.8,62.2,57.6,60.3,
  64.7,69.4,61.5,46.5,35.0,34.3,27.7,26.4,28.9,27.1,
  31.5,31.2,30.9,30.6,29.8,29.0,28.0,27.6,31.2,34.9,
  34.3,33.4,44.8,40.8,43.2,42.6,41.4,39.7,36.6,39.5,
  34.3,30.2,22.2,21.6,21.0,27.3,32.0,34.4,36.0,37.6,
  37.6,51.9,49.9,47.7,46.9,48.4,52.8,50.6,51.6,52.8,
  42.6,39.7,48.4,45.5,45.1,51.6,51.0,51.6,50.6,47.7,
  48.7,45.2,46.2,40.4,38.9,41.8,43.3,44.3,47.7,47.7,
  56.4,56.7,64.4,62.2,60.8,63.2,59.3,57.9,55.4,57.9,
  60.5,57.9,54.2,53.5,47.2,49.9,46.2,50.1,50.1,50.3,
  54.5,53.1,53.1,48.4,45.1,48.7,58.3,58.3,63.2,59.6,
  66.6,66.6,63.0,68.8,72.0,72.0,74.3,77.1,77.5,79.0,
  72.4,78.2,68.8,63.7,67.3,67.3,71.0,80.7,81.9,82.3,
  82.6,80.7,79.4,80.7,76.1,73.9,68.0,71.0,71.0,73.9,
  76.8,70.5,68.8,67.3,77.53
];
const rsiMaBars = [0,2,4,6,7,8,10,12,13,15,16,18,20,21,23,25,26,28,30,33,36,39,41,43,45,47,49,51,53,55,57,59,61,63,65,67,70,73,76,79,82,85,88,90,92,93,96,98,100,102,105,106,109,112,115,118,121,123,126,129,131,134,137,140,144,146,149,151,153,155,158,160,163,165,166,167,169,171,173,176,179,181,184,186,189,190,193,195,199,202,205,208,211,214,220,224,227,231,233,236,240,245,248,252,255,258,261,265,269,273,276,279,280,282,284];
const rsiMaVals = [57.4,54.9,52.3,50.3,50,51,54.5,58.9,58.9,56.7,56.6,57.1,58.3,58.3,55.7,53.2,52.2,52.8,53.1,52.6,52.6,51.9,51.5,52,53.5,54.7,55.2,55.7,54.8,54.7,53.3,52.5,51,47.7,47.1,48.3,49.9,50.3,51.3,50.7,51.2,51,50.9,52,53.6,53.6,50,49,49.9,51,52.3,53.5,59.3,64,65.9,67.3,66.6,67.8,66.4,63.7,60.8,58.9,55.7,54.9,54.9,56,56.4,58,57.7,55.4,49.6,45.2,38.9,33.1,30.9,29.8,29.5,30.6,32.8,35.3,37,37.6,35,33.8,32.4,32.4,34.1,36.8,45.2,47.7,48.4,48.7,48.4,46.5,46.4,49.1,52,57.9,58.6,56.1,53.1,50.1,52,57.1,60.8,68,71.4,71.7,74.6,75.5,75.6,76.8,77.1,75.3,73.74];

// time axis
const monthBars = [12,33,54,76,97,118,138,158,178,199,219,240,263,284];
const monthLabels = ['Aug','Sep','Oct','Nov','Dec','2025','Feb','Mar','Apr','May','Jun','Jul','Aug','Sep'];
const yearBar = 118;

// price axis and marks
const priceTicks = [1.6,1.7,1.8,1.9,2.0,2.1,2.2,2.3,2.4,2.5,2.6,2.7,2.8,2.9,3.0,3.1,3.2,3.3,3.4,3.5];
const resistance = 3.25;
const lastClose = 3.10;
const earningsBars = [18,155,266];
const dividendBars = [200];
const alertBar = 284;

const UP = '#089981', DOWN = '#f23645';
const GRID = '#f2f4f8';
const X_MIN = -0.5, X_MAX = 296.64;
const AXIS_FONT = { family: 'Roboto', size: 12 };

const toPoints = (bars, vals) => bars.map((b, i) => ({ x: b, y: vals[i] }));
const byBar = vals => vals.map((v, i) => ({ x: i, y: v }));
const flatLine = v => [{ x: X_MIN, y: v }, { x: X_MAX, y: v }];

function curve(points, color, width, yAxisID, order, extra) {
  return Object.assign({
    type: 'line', data: points, borderColor: color, borderWidth: width,
    pointRadius: 0, tension: 0, fill: false, yAxisID, order,
    borderJoinStyle: 'round'
  }, extra || {});
}
function bars(points, colors, thickness, yAxisID, order, extra) {
  return Object.assign({
    type: 'bar', data: points, backgroundColor: colors, barThickness: thickness,
    grouped: false, yAxisID, order
  }, extra || {});
}

// scales keep no spare room for their first and last labels, panes butt up to each other
function noPadding(s) {
  s.paddingTop = s.paddingBottom = s.paddingLeft = s.paddingRight = 0;
}

// keeps thin bars sharp instead of smearing across two pixel columns
const snapBars = {
  id: 'snapBars',
  beforeDatasetsDraw(chart) {
    chart.getSortedVisibleDatasetMetas().forEach(meta => {
      if (meta.type !== 'bar') return;
      meta.data.forEach(el => {
        el.x = Math.floor(el.x) + 0.5;
        el.y = Math.round(el.y);
        el.base = Math.round(el.base);
      });
    });
  }
};

// coloured value tags sitting on the price axis
function axisTags(tags) {
  return {
    id: 'axisTags',
    afterDraw(chart) {
      const ctx = chart.ctx, left = chart.chartArea.right + 1;
      tags.forEach(t => {
        const y = chart.scales[t.axis].getPixelForValue(t.value) + (t.shift || 0);
        ctx.save();
        ctx.fillStyle = t.bg;
        ctx.beginPath();
        ctx.roundRect(left, Math.round(y - 8.5), t.w, 17, 1);
        ctx.fill();
        ctx.fillStyle = t.fg || '#fff';
        ctx.font = '12px Roboto';
        ctx.textBaseline = 'middle';
        ctx.textAlign = 'left';
        ctx.fillText(t.text, left + 9, Math.round(y) + 0.5);
        ctx.restore();
      });
    }
  };
}

// earnings, dividend and alert badges along the bottom of the price pane
const badges = {
  id: 'badges',
  afterDatasetsDraw(chart) {
    const ctx = chart.ctx, xs = chart.scales.x, y = chart.chartArea.bottom - 12.5;
    ctx.save();
    ctx.textAlign = 'center';
    ctx.textBaseline = 'middle';
    earningsBars.forEach(b => {
      const x = Math.round(xs.getPixelForValue(b));
      ctx.fillStyle = '#fff';
      ctx.strokeStyle = '#4a4d57';
      ctx.lineWidth = 2;
      ctx.beginPath();
      ctx.roundRect(x - 8, y - 8, 16, 17, 3);
      ctx.fill();
      ctx.stroke();
      ctx.fillStyle = '#131722';
      ctx.font = '12px Roboto';
      ctx.fillText('E', x, y + 1);
    });
    dividendBars.forEach(b => {
      const x = Math.round(xs.getPixelForValue(b));
      ctx.fillStyle = '#fff';
      ctx.strokeStyle = '#2962ff';
      ctx.lineWidth = 2;
      ctx.beginPath();
      ctx.arc(x, y, 9.5, 0, Math.PI * 2);
      ctx.fill();
      ctx.stroke();
      ctx.fillStyle = '#2962ff';
      ctx.font = '12px Roboto';
      ctx.fillText('D', x, y + 1);
    });
    const ax = Math.round(xs.getPixelForValue(alertBar));
    ctx.fillStyle = '#fff';
    ctx.strokeStyle = '#9c27b0';
    ctx.lineWidth = 2;
    ctx.beginPath();
    ctx.arc(ax, y, 10, 0, Math.PI * 2);
    ctx.fill();
    ctx.beginPath();
    ctx.arc(ax, y, 10, -1.1, Math.PI * 1.6);
    ctx.stroke();
    ctx.fillStyle = '#9c27b0';
    ctx.beginPath();
    ctx.moveTo(ax + 3, y - 6);
    ctx.lineTo(ax - 4, y + 1);
    ctx.lineTo(ax - 0.5, y + 1);
    ctx.lineTo(ax - 3, y + 6);
    ctx.lineTo(ax + 4, y - 1);
    ctx.lineTo(ax + 0.5, y - 1);
    ctx.closePath();
    ctx.fill();
    ctx.fillStyle = '#f23645';
    ctx.beginPath();
    ctx.arc(ax + 7, y - 7, 2.8, 0, Math.PI * 2);
    ctx.fill();
    ctx.restore();
  }
};

function xAxis(showLabels) {
  return {
    type: 'linear', min: X_MIN, max: X_MAX, bounds: 'data', offset: false,
    grid: { color: '#f5f6f9', drawTicks: false, offset: false },
    border: { display: false },
    afterBuildTicks(s) { s.ticks = monthBars.map(v => ({ value: v })); },
    afterFit(s) { s.height = showLabels ? 27 : 0; noPadding(s); },
    ticks: {
      display: showLabels, autoSkip: false, maxRotation: 0, padding: 7, color: '#131722',
      font: ctx => ({ family: 'Roboto', size: 12, weight: ctx.tick && ctx.tick.value === yearBar ? '600' : '400' }),
      callback: v => monthLabels[monthBars.indexOf(v)]
    }
  };
}
function yAxis(min, max, tickVals, fmt) {
  return {
    type: 'linear', position: 'right', min, max, bounds: 'data',
    grid: { color: GRID, drawTicks: false },
    border: { display: false },
    afterBuildTicks(s) { s.ticks = tickVals.map(v => ({ value: v })); },
    afterFit(s) { s.width = 57; noPadding(s); },
    ticks: { autoSkip: false, padding: 10, color: '#131722', font: AXIS_FONT, callback: fmt }
  };
}
const baseOptions = {
  responsive: false, animation: false, events: [],
  layout: { padding: 0 },
  plugins: { legend: { display: false }, tooltip: { enabled: false } }
};

const wickPts = highs.map((h, i) => ({ x: i, y: [lows[i], h] }));
const bodyPts = opens.map((o, i) => ({ x: i, y: [Math.min(o, closes[i]), Math.max(o, closes[i])] }));
const candleColors = opens.map((o, i) => closes[i] >= o ? UP : DOWN);
const volColors = opens.map((o, i) => closes[i] >= o ? '#92d2cc' : '#f7a9a7');

new Chart(document.getElementById('mainCanvas'), {
  type: 'bar',
  data: {
    datasets: [
      bars(byBar(volumes), volColors, 7, 'yVol', 9),
      curve(toPoints(ema200Bars, ema200Vals), 'rgba(242,54,69,0.6)', 2.2, 'y', 8),
      curve(toPoints(ema50Bars, ema50Vals), 'rgba(41,98,255,0.6)', 2.2, 'y', 7),
      curve(toPoints(ema20Bars, ema20Vals), 'rgba(76,175,80,0.6)', 2.2, 'y', 6),
      curve(byBar(ema5), 'rgba(255,152,0,0.7)', 2.2, 'y', 5),
      bars(wickPts, candleColors, 1, 'y', 4),
      bars(bodyPts, candleColors, 5, 'y', 3, { minBarLength: 2 }),
      curve(flatLine(lastClose), UP, 1, 'y', 2, { borderDash: [1, 2] }),
      curve(flatLine(resistance), DOWN, 2, 'y', 1)
    ]
  },
  options: Object.assign({}, baseOptions, {
    scales: {
      x: xAxis(false),
      y: yAxis(1.5224, 3.642, priceTicks, v => v.toFixed(2)),
      yVol: { type: 'linear', display: false, min: 0, max: 1020, bounds: 'data', grid: { display: false } }
    }
  }),
  plugins: [snapBars, badges, axisTags([
    { axis: 'y', value: resistance, text: '3.25', bg: DOWN, w: 38 },
    { axis: 'y', value: lastClose, text: '3.10', bg: UP, w: 38 },
    { axis: 'y', value: 2.98, text: '2.98', bg: '#ff7b00', w: 38 },
    { axis: 'y', value: 2.85, text: '2.85', bg: '#4caf50', w: 38 },
    { axis: 'y', value: 2.65, text: '2.65', bg: '#2962ff', w: 38 },
    { axis: 'y', value: 2.47, text: '2.47', bg: DOWN, w: 38 },
    { axis: 'yVol', value: 58.59, text: '58.59M', bg: '#26a69a', w: 53 }
  ])]
});

// histogram shade follows direction: dark while growing, pale while shrinking
const histColors = histVals.map((v, i) => {
  const prev = i ? histVals[i - 1] : 0;
  if (v >= 0) return v >= prev ? '#26a69a' : '#b2dfdb';
  return v <= prev ? '#ff5252' : '#ffcdd2';
});

new Chart(document.getElementById('macdCanvas'), {
  type: 'bar',
  data: {
    datasets: [
      curve(flatLine(0), 'rgba(120,123,134,0.6)', 1, 'y', 5, { borderDash: [4, 4] }),
      bars(byBar(histVals), histColors, 7, 'y', 4),
      curve(toPoints(macdBars, macdVals), '#2962ff', 1.5, 'y', 3),
      curve(toPoints(signalBars, signalVals), '#ff6d00', 1.5, 'y', 2)
    ]
  },
  options: Object.assign({}, baseOptions, {
    scales: {
      x: xAxis(false),
      y: yAxis(-0.2159, 0.1939, [-0.2], v => '−' + Math.abs(v).toFixed(3))
    }
  }),
  plugins: [snapBars, axisTags([
    { axis: 'y', value: -0.002, text: '−0.002', bg: '#ffcdd2', fg: '#131722', w: 49 },
    { axis: 'y', value: 0.118, text: '0.118', bg: '#ff6d00', w: 43, shift: -15 },
    { axis: 'y', value: 0.116, text: '0.116', bg: '#2962ff', w: 43, shift: 1 }
  ])]
});

const rsiChart = new Chart(document.getElementById('rsiCanvas'), {
  type: 'line',
  data: {
    datasets: [
      curve(flatLine(70), 'rgba(120,123,134,1)', 1, 'y', 9, {
        borderDash: [4, 4],
        fill: { target: { value: 30 }, above: 'rgba(126,87,194,0.11)', below: 'rgba(126,87,194,0.11)' }
      }),
      curve(flatLine(50), 'rgba(120,123,134,0.55)', 1, 'y', 8, { borderDash: [4, 4] }),
      curve(flatLine(30), 'rgba(120,123,134,1)', 1, 'y', 7, { borderDash: [4, 4] }),
      curve(byBar(rsiVals), 'transparent', 0, 'y', 6, {
        fill: { target: { value: 70 }, above: 'rgba(76,175,80,0.2)', below: 'transparent' }
      }),
      curve(byBar(rsiVals), 'transparent', 0, 'y', 5, {
        fill: { target: { value: 30 }, above: 'transparent', below: 'rgba(255,82,82,0.2)' }
      }),
      curve(toPoints(rsiMaBars, rsiMaVals), '#fdd835', 1.2, 'y', 4),
      curve(byBar(rsiVals), '#7e57c2', 1.2, 'y', 3)
    ]
  },
  options: Object.assign({}, baseOptions, {
    scales: {
      x: xAxis(true),
      y: yAxis(14.34, 90.76, [20, 40, 60, 80], v => v.toFixed(2))
    }
  }),
  plugins: [axisTags([
    { axis: 'y', value: 77.53, text: '77.53', bg: '#7e57c2', w: 43 },
    { axis: 'y', value: 73.74, text: '73.74', bg: '#ffeb3b', fg: '#131722', w: 43, shift: 8 }
  ])]
});

// the overbought and oversold shading fades out toward the band edge
const rsiY = rsiChart.scales.y, rsiCtx = rsiChart.ctx;
const overbought = rsiCtx.createLinearGradient(0, rsiY.getPixelForValue(83), 0, rsiY.getPixelForValue(70));
overbought.addColorStop(0, 'rgba(76,175,80,0.32)');
overbought.addColorStop(1, 'rgba(76,175,80,0)');
const oversold = rsiCtx.createLinearGradient(0, rsiY.getPixelForValue(30), 0, rsiY.getPixelForValue(20));
oversold.addColorStop(0, 'rgba(255,82,82,0)');
oversold.addColorStop(1, 'rgba(255,82,82,0.32)');
rsiChart.data.datasets[3].fill.above = overbought;
rsiChart.data.datasets[4].fill.below = oversold;
rsiChart.update('none');
</script>
</body>
</html>
